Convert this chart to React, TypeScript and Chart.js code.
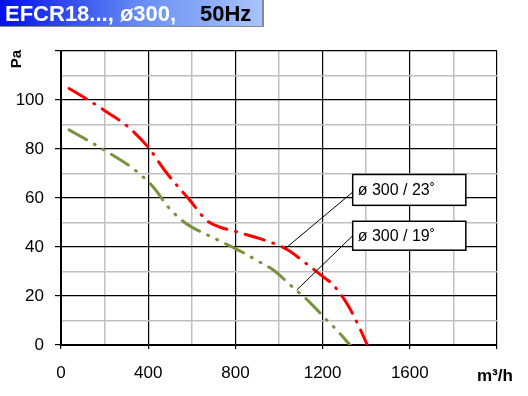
import { useEffect, useRef } from "react";
import { Chart, registerables } from "chart.js";
Chart.register(...registerables);

const titleMain = "EFCR18..., ø300,";
const titleHz = "50Hz";
const yUnit = "Pa";
const xUnit = "m³/h";

const seriesNames = ["ø 300 / 23˚", "ø 300 / 19˚"];
const redX = [37, 125, 217, 304, 400, 482, 592, 668, 729, 798, 852, 913, 1035, 1134, 1203, 1242, 1307, 1364, 1405];
const redY = [104.7, 100, 94.7, 89.3, 80.7, 70.5, 59, 50.9, 48.1, 46.4, 45, 43.4, 39.1, 32.6, 27.8, 25.1, 17.6, 8.1, 0];
const greenX = [37, 125, 222, 332, 424, 492, 564, 600, 691, 794, 844, 928, 971, 1058, 1139, 1219, 1262, 1326];
const greenY = [87.8, 83.4, 78.3, 71.9, 64.4, 56.3, 50.2, 48.1, 44.1, 39.6, 37.3, 33, 30.8, 24, 17.6, 10.2, 6.4, 0];

// annotation: anchor point on curve (data), box [x1, yTop, x2, yBottom] in data units
const annAnchorX = [1028, 1081];
const annAnchorY = [39.3, 22.4];
const annBoxX1 = [1338, 1338];
const annBoxX2 = [1857, 1857];
const annBoxTop = [69.6, 50.5];
const annBoxBottom = [57, 38.7];
const annLeaderY = [62.4, 44.6];

const FONT = "'Liberation Sans', Arial, sans-serif";

const overlay = {
  id: "overlay",
  afterDraw(chart: any) {
    const { ctx, scales } = chart;
    const xs = scales.x, ys = scales.y;
    ctx.save();
    // Title box
    const g = ctx.createLinearGradient(0, 0, 262, 0);
    g.addColorStop(0, "#0010e8");
    g.addColorStop(0.55, "#6a90f4");
    g.addColorStop(1, "#a9c4fc");
    ctx.fillStyle = g;
    ctx.fillRect(0, 0, 262, 26);
    ctx.fillStyle = "#8a8a8a";
    ctx.fillRect(262, 0, 2, 27);
    ctx.fillRect(0, 26, 264, 1);
    ctx.font = `bold 22px ${FONT}`;
    ctx.textBaseline = "alphabetic";
    ctx.textAlign = "left";
    ctx.fillStyle = "#ffffff";
    ctx.fillText(titleMain, 5, 21);
    ctx.fillStyle = "#000000";
    ctx.fillText(titleHz, 200, 21);

    // axis units
    ctx.font = `bold 15px ${FONT}`;
    ctx.save();
    ctx.translate(17, 59);
    ctx.rotate(-Math.PI / 2);
    ctx.textAlign = "center";
    ctx.textBaseline = "middle";
    ctx.fillText(yUnit, 0, 0);
    ctx.restore();
    ctx.font = `bold 17px ${FONT}`;
    ctx.textAlign = "left";
    ctx.textBaseline = "middle";
    ctx.fillText(xUnit, 477, 376);

    // annotations
    for (let i = 0; i < seriesNames.length; i++) {
      const ax = xs.getPixelForValue(annAnchorX[i]);
      const ay = ys.getPixelForValue(annAnchorY[i]);
      const bx1 = xs.getPixelForValue(annBoxX1[i]);
      const bx2 = xs.getPixelForValue(annBoxX2[i]);
      const by1 = ys.getPixelForValue(annBoxTop[i]);
      const by2 = ys.getPixelForValue(annBoxBottom[i]);
      const ly = ys.getPixelForValue(annLeaderY[i]);
      ctx.strokeStyle = "#000";
      ctx.lineWidth = 1;
      ctx.beginPath();
      ctx.moveTo(ax, ay);
      ctx.lineTo(bx1, ly);
      ctx.stroke();
      ctx.fillStyle = "#fff";
      ctx.fillRect(bx1, by1, bx2 - bx1, by2 - by1);
      ctx.lineWidth = 1.5;
      ctx.strokeRect(bx1, by1, bx2 - bx1, by2 - by1);
      ctx.fillStyle = "#000";
      ctx.font = `16px ${FONT}`;
      ctx.textBaseline = "middle";
      ctx.fillText(seriesNames[i], bx1 + 5, (by1 + by2) / 2 + 1);
    }
    ctx.restore();
  },
};

export default function App() {
  const ref = useRef<HTMLCanvasElement>(null);
  useEffect(() => {
    document.body.style.margin = "0";
    const chart = new Chart(ref.current!, {
      type: "line",
      data: {
        datasets: [
          {
            label: seriesNames[0],
            data: redX.map((x, i) => ({ x, y: redY[i] })),
            borderColor: "#ff0000",
            borderWidth: 3,
            borderDash: [20, 9, 1, 9],
            borderCapStyle: "round",
            pointRadius: 0,
            cubicInterpolationMode: "monotone",
            fill: false,
          },
          {
            label: seriesNames[1],
            data: greenX.map((x, i) => ({ x, y: greenY[i] })),
            borderColor: "#77933c",
            borderWidth: 3,
            borderDash: [20, 9, 1, 9, 1, 9],
            borderCapStyle: "round",
            pointRadius: 0,
            cubicInterpolationMode: "monotone",
            fill: false,
          },
        ],
      },
      options: {
        animation: false,
        responsive: false,
        layout: { padding: { top: 51, right: 31, left: 0, bottom: 0 } },
        plugins: { legend: { display: false }, tooltip: { enabled: false }, title: { display: false } },
        scales: {
          x: {
            type: "linear",
            min: 0,
            max: 2000,
            afterFit: (s: any) => { s.height = 51; },
            ticks: {
              stepSize: 200,
              autoSkip: false,
              maxRotation: 0,
              padding: 14,
              color: "#000",
              font: { family: FONT, size: 17 },
              callback: (v: any) => (v % 400 === 0 && v < 2000 ? String(v) : ""),
            },
            grid: {
              color: (c: any) => (c.tick && c.tick.value % 400 === 0 ? "#000" : "#c0c0c0"),
              lineWidth: (c: any) => (c.tick && c.tick.value % 400 === 0 ? 1.2 : 1.5),
              tickColor: (c: any) => (c.tick && c.tick.value % 400 === 0 ? "#000" : "rgba(0,0,0,0)"),
              tickLength: 4,
            },
            border: { display: true, color: "#000", width: 2 },
          },
          y: {
            type: "linear",
            min: 0,
            max: 120,
            afterFit: (s: any) => { s.width = 61; },
            ticks: {
              stepSize: 10,
              autoSkip: false,
              padding: 11,
              color: "#000",
              font: { family: FONT, size: 17 },
              callback: (v: any) => (v % 20 === 0 && v < 120 ? String(v) : ""),
            },
            grid: {
              color: (c: any) => (c.tick && c.tick.value % 20 === 0 ? "#000" : "#c0c0c0"),
              lineWidth: (c: any) => (c.tick && c.tick.value % 20 === 0 ? 1.2 : 1.5),
              tickColor: (c: any) => (c.tick && c.tick.value % 20 === 0 ? "#000" : "rgba(0,0,0,0)"),
              tickLength: 6,
            },
            border: { display: true, color: "#000", width: 2 },
          },
        },
      } as any,
      plugins: [overlay],
    });
    return () => chart.destroy();
  }, []);
  return (
    <div style={{ width: 528, height: 396, background: "#fff" }}>
      <canvas ref={ref} width={528} height={396} />
    </div>
  );
}
